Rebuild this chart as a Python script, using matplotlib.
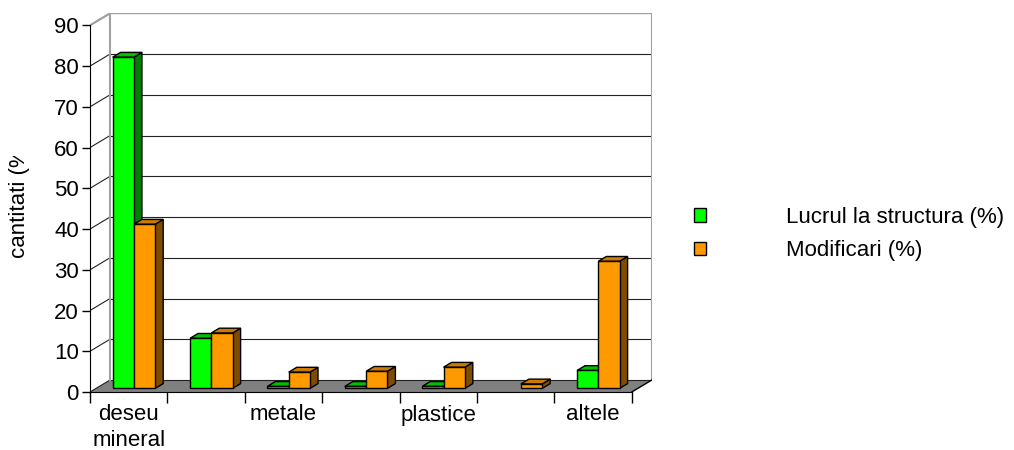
import numpy as np
import matplotlib
matplotlib.use("Agg")
import matplotlib.pyplot as plt
from matplotlib.patches import Polygon, Patch, Rectangle

plt.rcParams['font.family'] = ['Liberation Sans', 'DejaVu Sans']

# data
categories = ["deseu\nmineral", "", "metale", "", "plastice", "", "altele"]
structura = [81.3, 12.3, 0.5, 0.5, 0.5, 0.0, 4.4]
modificari = [40.3, 13.6, 4.0, 4.2, 5.2, 1.1, 31.2]
series_names = ["Lucrul la structura (%)", "Modificari (%)"]
yticks = list(range(0, 100, 10))

# colours: front, side, top
green = ("#00ff00", "#008000", "#00c000")
orange = ("#ff9900", "#804c00", "#cc7a00")

W, H = 1014, 450
fig = plt.figure(figsize=(W / 100, H / 100), dpi=100)

# plot area in pixels: front axis x=90..632, y0=392, depth offset 20px / 12px
px_cat = 77.4
px_val = 4.074
DX = 20 / px_cat
DY = 12 / px_val
n = len(categories)
ax_left, ax_right, ax_bot = 90, 90 + (n + DX) * px_cat, 392
ax_top = ax_bot - (90 + DY) * px_val
ax = fig.add_axes([ax_left / W, 1 - ax_bot / H, (ax_right - ax_left) / W, (ax_bot - ax_top) / H])
ax.set_xlim(0, n + DX)
ax.set_ylim(0, 90 + DY)
ax.patch.set_visible(False)

for s in ['top', 'right']:
    ax.spines[s].set_visible(False)
ax.spines['left'].set_bounds(0, 90)
ax.spines['bottom'].set_bounds(0, n)
ax.spines['left'].set_zorder(3)

# floor
ax.add_patch(Polygon([(0, 0), (n, 0), (n + DX, DY), (DX, DY)], closed=True,
                     facecolor='#808080', edgecolor='none', zorder=0))
ax.plot([n, n + DX], [0, DY], color='black', lw=1, zorder=1)

# back wall + side wall gridlines
for v in yticks:
    ax.plot([DX, n + DX], [v + DY, v + DY], color='#222222', lw=0.8, zorder=0.5)
    ax.plot([0, DX], [v, v + DY], color='#222222', lw=0.8, zorder=0.5)
ax.plot([DX, DX], [DY, 90 + DY], color='#a0a0a0', lw=1.5, zorder=0.6)
ax.plot([n + DX, n + DX], [DY, 90 + DY], color='#a0a0a0', lw=1.5, zorder=0.6)
ax.plot([0, DX], [90, 90 + DY], color='#a0a0a0', lw=1.5, zorder=0.6)
ax.plot([DX, n + DX], [90 + DY, 90 + DY], color='#a0a0a0', lw=1.5, zorder=0.6)

# 3d-ish bars
w = 0.275
fx, fy = 0.3 * DX, 0.3 * DY   # front face offset into the depth
bx, by = 0.4 * DX, 0.4 * DY   # bar depth
x = np.arange(n)
z = 2
for i in range(n):
    for k, (vals, col) in enumerate([(structura, green), (modificari, orange)]):
        v = vals[i]
        if v <= 0:
            continue
        x0 = x[i] + 0.5 - w + k * w + fx - 0.01
        x1 = x0 + w
        b = fy
        ax.add_patch(Polygon([(x1, b), (x1 + bx, b + by), (x1 + bx, b + v + by), (x1, b + v)],
                             closed=True, facecolor=col[1], edgecolor='black', lw=1, zorder=z))
        ax.add_patch(Polygon([(x0, b + v), (x0 + bx, b + v + by), (x1 + bx, b + v + by), (x1, b + v)],
                             closed=True, facecolor=col[2], edgecolor='black', lw=1, zorder=z))
        ax.bar(x0, v, width=w, bottom=b, align='edge', color=col[0], edgecolor='black', lw=1, zorder=z + 0.1)
        z += 0.5

ax.set_yticks(yticks)
ax.tick_params(axis='y', direction='out', length=6, width=1, pad=2, labelsize=16)
ax.set_xticks(x + 0.5)
ax.set_xticklabels(categories, fontsize=16, linespacing=1.25)
ax.set_xticks(np.arange(n + 1), minor=True)
ax.tick_params(axis='x', which='major', length=0, pad=9)
ax.tick_params(axis='x', which='minor', direction='out', length=8, width=1)

# y label, clipped like the original
t = fig.text(20 / W, 1 - 258 / H, "cantitati (%)", rotation=90, ha='center', va='bottom', fontsize=16)
t.set_clip_path(Rectangle((0, 0), 1, 1 - 156 / H, transform=fig.transFigure))

handles = [Patch(facecolor=green[0], edgecolor='black'), Patch(facecolor=orange[0], edgecolor='black')]
fig.legend(handles, series_names, loc='upper left', bbox_to_anchor=(694 / W, 1 - 207 / H),
           frameon=False, fontsize=16, handlelength=0.55, handleheight=0.55,
           handletextpad=3.6, labelspacing=0.55, borderpad=0, borderaxespad=0)

fig.savefig("out.png", dpi=100)
